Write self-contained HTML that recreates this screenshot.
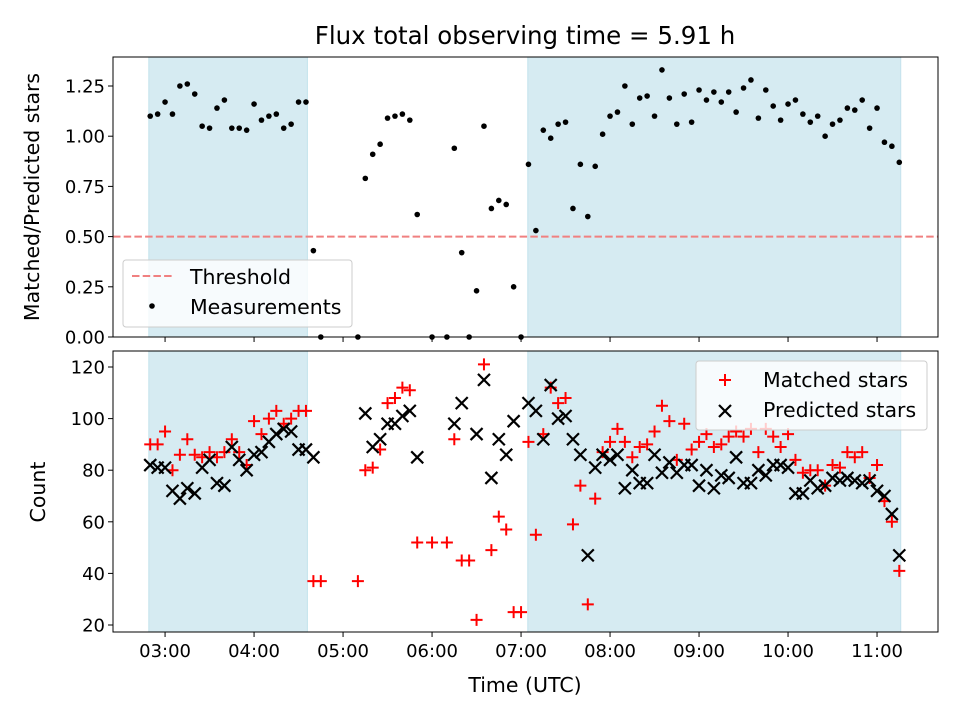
<!DOCTYPE html>
<html><head><meta charset="utf-8"><style>
html,body{margin:0;padding:0;background:#fff;}
svg{display:block;font-family:"DejaVu Sans","Liberation Sans",sans-serif;}
</style></head><body>
<svg id="chart" width="960" height="720" viewBox="0 0 960 720" xmlns="http://www.w3.org/2000/svg"></svg>
<script>
const times=[170,175,180,185,190,195,200,205,210,215,220,225,230,235,240,245,250,255,260,265,270,275,280,285,310,315,320,325,330,335,340,345,350,360,370,375,380,385,390,395,400,405,410,415,420,425,430,435,440,445,450,455,460,465,470,475,480,485,490,495,500,505,510,515,520,525,530,535,540,545,550,555,560,565,570,575,580,585,590,595,600,605,610,615,620,625,630,635,640,645,650,655,660,665,670,675];
const ratio=[1.10,1.11,1.17,1.11,1.25,1.26,1.21,1.05,1.04,1.14,1.18,1.04,1.04,1.03,1.16,1.08,1.10,1.11,1.04,1.06,1.17,1.17,0.43,0,0,0.79,0.91,0.96,1.09,1.10,1.11,1.08,0.61,0,0,0.94,0.42,0,0.23,1.05,0.64,0.68,0.66,0.25,0,0.86,0.53,1.03,0.99,1.06,1.07,0.64,0.86,0.60,0.85,1.01,1.10,1.12,1.25,1.06,1.19,1.20,1.10,1.33,1.19,1.06,1.21,1.07,1.23,1.18,1.22,1.17,1.22,1.12,1.24,1.28,1.09,1.23,1.15,1.08,1.16,1.18,1.11,1.07,1.10,1.00,1.06,1.08,1.14,1.13,1.18,1.04,1.14,0.97,0.95,0.87];
const matched=[90,90,95,80,86,92,86,85,87,85,87,92,87,82,99,94,100,103,98,100,103,103,37,37,37,80,81,88,106,108,112,111,52,52,52,92,45,45,22,121,49,62,57,25,25,91,55,94,112,106,108,59,74,28,69,87,91,96,91,85,89,90,95,105,99,84,98,88,91,94,89,90,93,95,93,96,87,96,93,89,94,84,79,80,80,74,82,81,87,85,87,77,82,68,60,41];
const predicted=[82,81,81,72,69,73,71,81,84,75,74,89,84,80,86,87,91,94,96,95,88,88,85,null,null,102,89,92,98,98,101,103,85,null,null,98,106,null,94,115,77,92,86,99,null,106,103,92,113,100,101,92,86,47,81,86,84,86,73,80,75,75,86,79,83,79,82,82,74,80,73,78,77,85,75,75,80,78,82,82,81,71,71,76,73,74,77,76,77,76,75,76,72,70,63,47];
const shadeSpans=[[169,276],[424.5,676]];
const threshold=0.5;
const xTickVals=[180,240,300,360,420,480,540,600,660];
const xTickLabels=["03:00","04:00","05:00","06:00","07:00","08:00","09:00","10:00","11:00"];
const topTicks=[0,0.25,0.5,0.75,1.0,1.25];
const topTickLabels=["0.00","0.25","0.50","0.75","1.00","1.25"];
const botTicks=[20,40,60,80,100,120];
const botTickLabels=["20","40","60","80","100","120"];

const NS="http://www.w3.org/2000/svg";
const svg=document.getElementById('chart');
function mk(tag,attrs,parent){const e=document.createElementNS(NS,tag);for(const k in attrs)e.setAttribute(k,attrs[k]);(parent||svg).appendChild(e);return e;}
const L=113,R=938,T1=57,B1=337,T2=351,B2=632;
const xMin=144.9,xMax=701.1;
const TICK=18,LAB=20.5,LEG=20.5,TIT=24.5;
function X(m){return L+(m-xMin)/(xMax-xMin)*(R-L);}
function Y1(v){return B1-v/1.3944*(B1-T1);}
function Y2(v){return B2-(v-17.29)/(126.2-17.29)*(B2-T2);}

const title=mk('text',{x:525,y:44,'text-anchor':'middle','font-size':TIT});
title.textContent='Flux total observing time = 5.91 h';



function panel(T,B,name){
  const g=mk('g',{});
  
  
  shadeSpans.forEach((s,i)=>{
    const r=mk('rect',{x:X(s[0]),y:T,width:X(s[1])-X(s[0]),height:B-T,fill:'#add8e6','fill-opacity':0.5,stroke:'#add8e6','stroke-opacity':0.6},g);
    
    
  });
  return g;
}
function frame(g,T,B){mk('rect',{x:L,y:T,width:R-L,height:B-T,fill:'none',stroke:'#000','stroke-width':1},g);}

const gTop=panel(T1,B1,'ratio-panel');
const thr=mk('line',{x1:L,x2:R,y1:Y1(threshold),y2:Y1(threshold),stroke:'#f08080','stroke-width':2,'stroke-dasharray':'7.5,3.2'},gTop);


times.forEach((t,i)=>{
  const c=mk('circle',{cx:X(t),cy:Y1(ratio[i]),r:2.8,fill:'#000'},gTop);
  
  
});
frame(gTop,T1,B1);
topTicks.forEach((v,i)=>{
  mk('line',{x1:L-5,x2:L,y1:Y1(v),y2:Y1(v),stroke:'#000'},gTop);
  const t=mk('text',{x:L-8,y:Y1(v)+6.5,'text-anchor':'end','font-size':TICK},gTop);
  t.textContent=topTickLabels[i];
  
  
});
xTickVals.forEach(v=>{mk('line',{x1:X(v),x2:X(v),y1:B1,y2:B1+5,stroke:'#000'},gTop);});
const yl1=mk('text',{x:0,y:0,transform:'translate(39,197) rotate(-90)','text-anchor':'middle','font-size':LAB},gTop);
yl1.textContent='Matched/Predicted stars';


const lg1=mk('g',{},gTop);


mk('rect',{x:123,y:260,width:229,height:67,rx:3,fill:'#fff','fill-opacity':0.8,stroke:'#ccc'},lg1);
mk('line',{x1:132,x2:174,y1:276,y2:276,stroke:'#f08080','stroke-width':2,'stroke-dasharray':'7.5,3.2'},lg1);
const lt1=mk('text',{x:190,y:284,'font-size':LEG},lg1);lt1.textContent='Threshold';


mk('circle',{cx:152,cy:306,r:2.8,fill:'#000'},lg1);
const lt2=mk('text',{x:190,y:314,'font-size':LEG},lg1);lt2.textContent='Measurements';



const gBot=panel(T2,B2,'count-panel');
function plus(x,y,g){return mk('path',{d:`M${x-6},${y}H${x+6}M${x},${y-6}V${y+6}`,stroke:'#ff0000','stroke-width':2},g);}
function cross(x,y,g){return mk('path',{d:`M${x-6},${y-6}L${x+6},${y+6}M${x-6},${y+6}L${x+6},${y-6}`,stroke:'#000','stroke-width':2.2},g);}
times.forEach((t,i)=>{
  const p=plus(X(t),Y2(matched[i]),gBot);
  
  
});
times.forEach((t,i)=>{
  if(predicted[i]===null)return;
  const p=cross(X(t),Y2(predicted[i]),gBot);
  
  
});
frame(gBot,T2,B2);
botTicks.forEach((v,i)=>{
  mk('line',{x1:L-5,x2:L,y1:Y2(v),y2:Y2(v),stroke:'#000'},gBot);
  const t=mk('text',{x:L-8,y:Y2(v)+6.5,'text-anchor':'end','font-size':TICK},gBot);
  t.textContent=botTickLabels[i];
  
  
});
xTickVals.forEach((v,i)=>{
  mk('line',{x1:X(v),x2:X(v),y1:B2,y2:B2+5,stroke:'#000'},gBot);
  const t=mk('text',{x:X(v),y:B2+25,'text-anchor':'middle','font-size':TICK},gBot);
  t.textContent=xTickLabels[i];
  
  
});
const yl2=mk('text',{x:0,y:0,transform:'translate(45,492) rotate(-90)','text-anchor':'middle','font-size':LAB},gBot);
yl2.textContent='Count';


const xl=mk('text',{x:525,y:692,'text-anchor':'middle','font-size':LAB},gBot);
xl.textContent='Time (UTC)';


const lg2=mk('g',{},gBot);


mk('rect',{x:696,y:361,width:231,height:69,rx:3,fill:'#fff','fill-opacity':0.8,stroke:'#ccc'},lg2);
plus(725,380,lg2);
const lt3=mk('text',{x:763,y:387,'font-size':LEG},lg2);lt3.textContent='Matched stars';


cross(725,411,lg2);
const lt4=mk('text',{x:763,y:417,'font-size':LEG},lg2);lt4.textContent='Predicted stars';


</script>
</body></html>
